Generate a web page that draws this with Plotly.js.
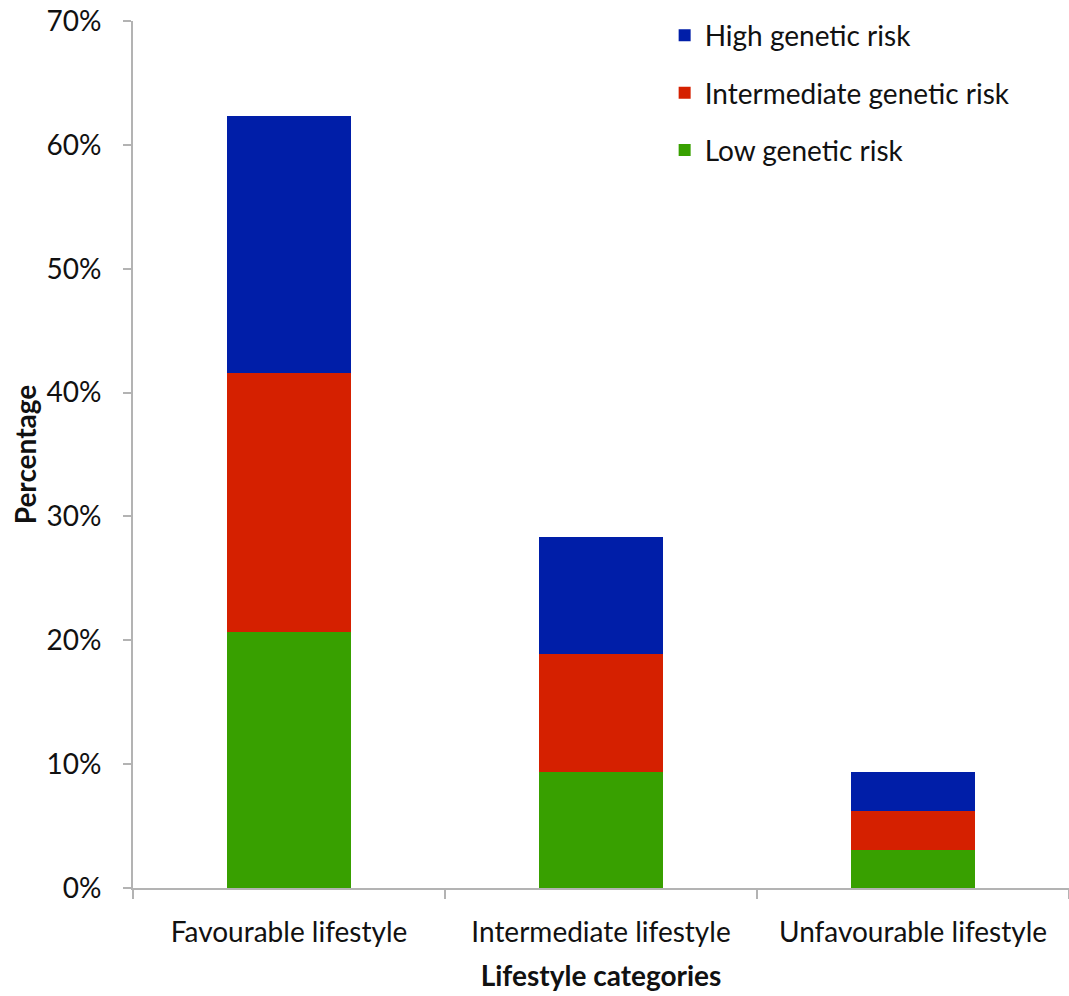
<!DOCTYPE html>
<html>
<head>
<meta charset="utf-8">
<script src="https://cdn.plot.ly/plotly-3.0.1.min.js"></script>
<style>html,body{margin:0;padding:0;background:#fff;}#chart{width:1069px;height:996px;}</style>
</head>
<body>
<div id="chart"></div>
<script>
const categories = ["Favourable lifestyle", "Intermediate lifestyle", "Unfavourable lifestyle"];
const lowRisk = [20.7, 9.4, 3.1];
const intermediateRisk = [20.9, 9.5, 3.1];
const highRisk = [20.7, 9.4, 3.2];
const seriesNames = ["Low genetic risk", "Intermediate genetic risk", "High genetic risk"];
const seriesColors = ["#38A000", "#D52000", "#001EA8"];
const yTicks = [0, 10, 20, 30, 40, 50, 60, 70];

const font = "Lato, 'Open Sans', sans-serif";
const fs = 28;
const seriesValues = [lowRisk, intermediateRisk, highRisk];
const traces = seriesValues.map((vals, i) => ({
  type: "bar",
  x: categories,
  y: vals,
  name: seriesNames[i],
  legendgroup: "g" + i,
  legendrank: 10 - i,
  marker: {color: seriesColors[i], line: {width: 0}},
  hoverinfo: "skip"
}));

const layout = {
  width: 1069, height: 996,
  margin: {l: 133, r: 0, t: 21, b: 108},
  barmode: "stack",
  bargap: 0.6,
  paper_bgcolor: "#fff", plot_bgcolor: "#fff",
  font: {family: font, size: fs, color: "#111"},
  showlegend: true,
  legend: {
    x: 0.568, xanchor: "left", y: 1.012, yanchor: "top",
    traceorder: "grouped", tracegroupgap: 18,
    font: {family: font, size: fs, color: "#111"},
    bgcolor: "rgba(0,0,0,0)"
  },
  xaxis: {
    type: "category",
    showline: true, linecolor: "#b3b3b3", linewidth: 2,
    ticks: "outside", tickson: "boundaries", ticklen: 9, tickcolor: "#b3b3b3", tickwidth: 2,
    showgrid: false, zeroline: false,
    tickfont: {family: font, size: fs, color: "#111"},
    ticklabelstandoff: 18,
    title: {text: "<b>Lifestyle categories</b>", font: {family: font, size: fs, color: "#111"}, standoff: 20}
  },
  yaxis: {
    range: [0, 70], tickvals: yTicks, ticktext: yTicks.map(v => v + "%"),
    showline: true, linecolor: "#b3b3b3", linewidth: 2,
    ticks: "outside", ticklen: 8, tickcolor: "#b3b3b3", tickwidth: 2,
    showgrid: false, zeroline: false,
    tickfont: {family: font, size: fs, color: "#111"},
    ticklabelstandoff: 16,
    title: {text: "<b>Percentage</b>", font: {family: font, size: fs, color: "#111"}, standoff: 2}
  }
};

Plotly.newPlot("chart", traces, layout, {displayModeBar: false, staticPlot: true});
</script>
</body>
</html>
